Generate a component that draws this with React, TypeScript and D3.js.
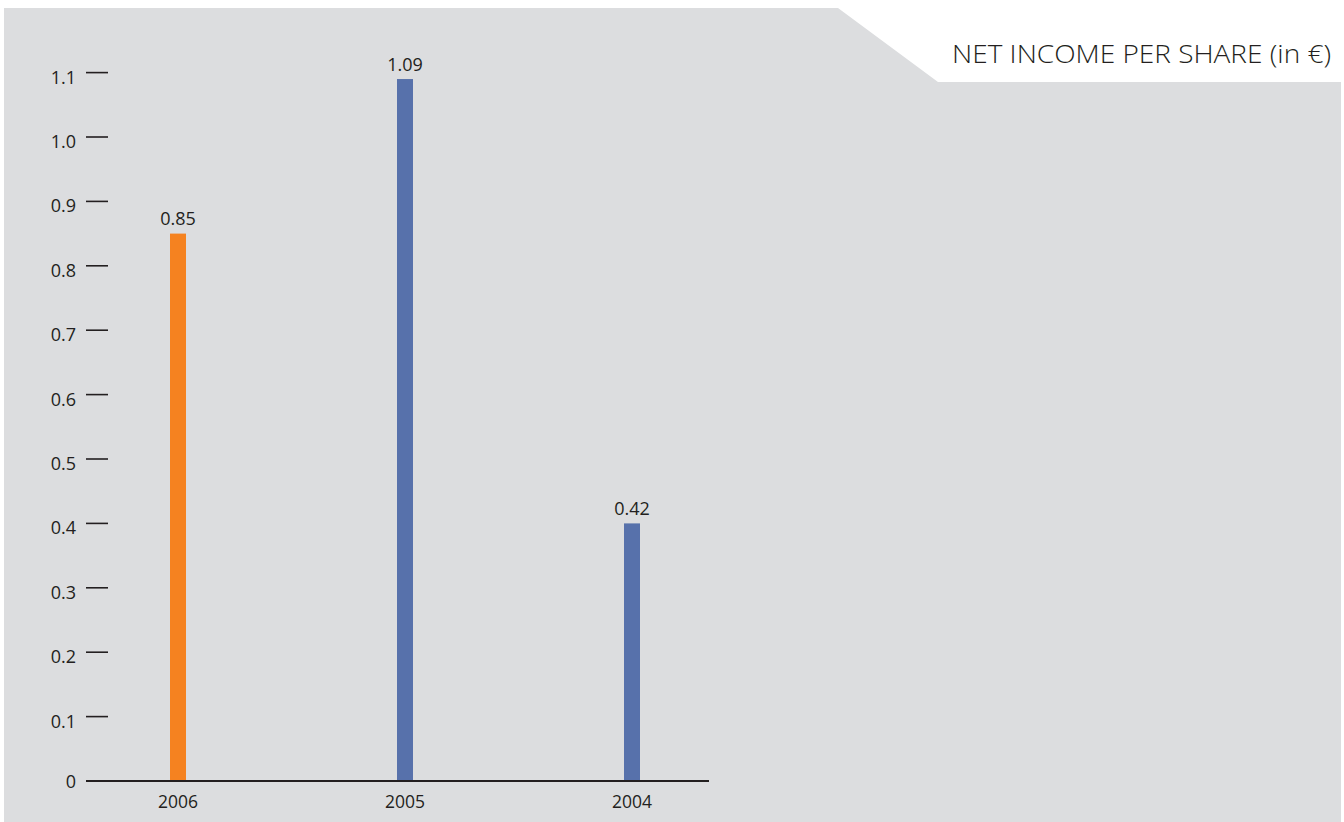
import React from "react";
import * as d3 from "d3";

const years = ["2006", "2005", "2004"];
const barValues = [0.85, 1.09, 0.4];
const valueLabels = ["0.85", "1.09", "0.42"];
const barColors = ["#F58220", "#5771AB", "#5771AB"];
const yTicks = [0, 0.1, 0.2, 0.3, 0.4, 0.5, 0.6, 0.7, 0.8, 0.9, 1.0, 1.1];
const yTickLabels = ["0", "0.1", "0.2", "0.3", "0.4", "0.5", "0.6", "0.7", "0.8", "0.9", "1.0", "1.1"];
const title = "NET INCOME PER SHARE (in €)";

const W = 1344;
const H = 822;

export default function App() {
  const y = d3.scaleLinear().domain([0, 1.1]).range([781, 72.6]);
  const x = d3.scalePoint<string>().domain(years).range([178, 632]);
  const barW = 16;
  const font = "'Open Sans', 'Noto Sans', sans-serif";
  const bgPath = `M4,8 L838,8 L938,82 L1341,82 L1341,822 L4,822 Z`;

  return (
    <svg
      width={W}
      height={H}
      style={{ position: "absolute", left: 0, top: 0, background: "#fff" }}
    >
      <path d={bgPath} fill="#DCDDDF" />
      <text
        x={1331}
        y={63}
        textAnchor="end"
        fontFamily={font}
        fontWeight={300}
        fontSize={26}
        textLength={379}
        lengthAdjust="spacingAndGlyphs"
        fill="#231F20"
      >
        {title}
      </text>
      {yTicks.map((t, i) => (
        <g key={i}>
          <line x1={86} x2={108} y1={y(t)} y2={y(t)} stroke="#231F20" strokeWidth={1.6} />
          <text
            x={76}
            y={y(t) + (t === 0 ? 7 : 11)}
            textAnchor="end"
            fontFamily={font}
            fontSize={18}
            fill="#231F20"
          >
            {yTickLabels[i]}
          </text>
        </g>
      ))}
      {years.map((yr, i) => (
        <g key={yr}>
          <rect
            x={(x(yr) as number) - barW / 2}
            y={y(barValues[i])}
            width={barW}
            height={y(0) - y(barValues[i])}
            fill={barColors[i]}
          />
          <text
            x={x(yr) as number}
            y={y(barValues[i]) - 8.5}
            textAnchor="middle"
            fontFamily={font}
            fontSize={18}
            fill="#231F20"
          >
            {valueLabels[i]}
          </text>
          <text
            x={x(yr) as number}
            y={808}
            textAnchor="middle"
            fontFamily={font}
            fontSize={17.5}
            fill="#231F20"
          >
            {yr}
          </text>
        </g>
      ))}
      <line x1={86} x2={709} y1={y(0)} y2={y(0)} stroke="#231F20" strokeWidth={1.8} />
    </svg>
  );
}
